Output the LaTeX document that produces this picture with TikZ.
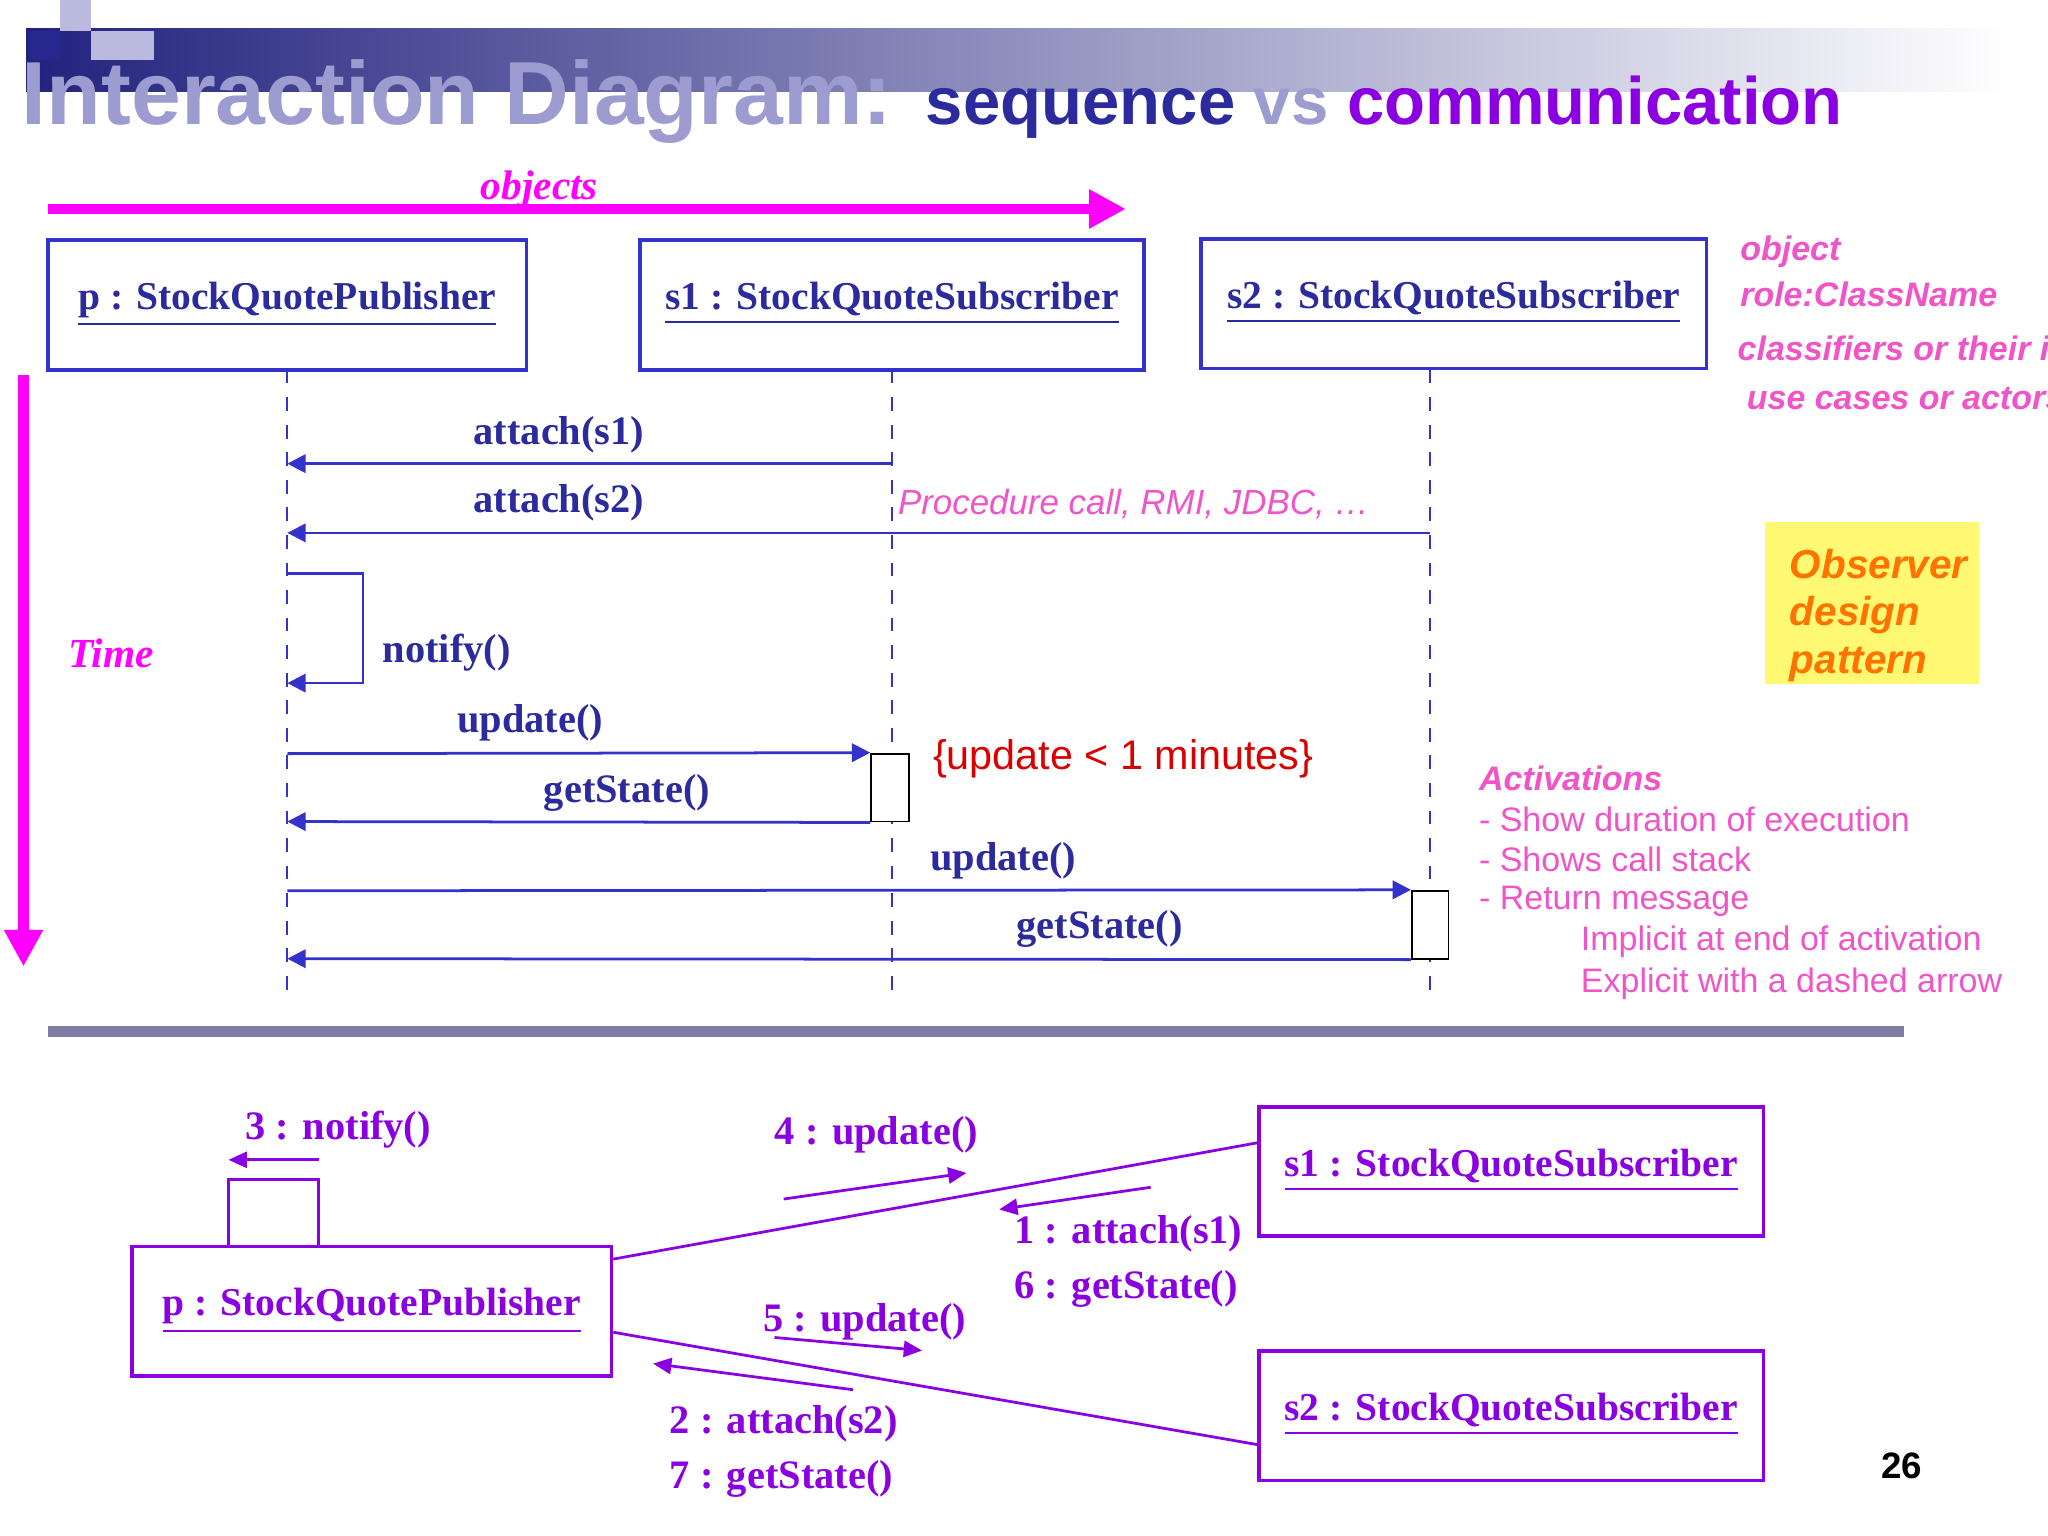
\documentclass[tikz,border=0pt]{standalone}
\usepackage{fontspec}
\setmainfont{Liberation Serif}
\setsansfont{Liberation Sans}
\usetikzlibrary{arrows.meta}
\definecolor{lblue}{HTML}{3333CC}
\definecolor{dblue}{HTML}{2B2B9E}
\definecolor{mag}{HTML}{FF00FF}
\definecolor{pinkt}{HTML}{F055C8}
\definecolor{purp}{HTML}{8A00E0}
\definecolor{lav}{HTML}{9C9CD0}
\begin{document}
\begin{tikzpicture}[x=0.01cm,y=-0.01cm,
  obj/.style={draw=lblue,thick,minimum height=0.99cm,font=\fontsize{8.6}{10}\selectfont\bfseries,text=dblue},
  msg/.style={font=\fontsize{8.8}{10}\selectfont\bfseries,text=dblue},
  cmsg/.style={font=\fontsize{8.8}{10}\selectfont\bfseries,text=purp},
  ln/.style={draw=lblue,semithick},
  call/.style={ln,-{Triangle[length=4pt,width=4pt]}},
  life/.style={draw=lblue,dashed},
  note/.style={font=\sffamily\fontsize{7.4}{9}\selectfont,text=pinkt,anchor=west},
  carr/.style={draw=purp,semithick,-{Triangle[length=4pt,width=3.5pt]}}]
\useasboundingbox (0,0) rectangle (1568,1176);
% title bar
\shade[left color=dblue!80!black,right color=white] (20,22) rectangle (1540,70);
\fill[dblue!90!black] (22,24) rectangle (46,46);
\fill[lav!70] (46,0) rectangle (70,24);
\fill[lav!70] (70,24) rectangle (118,46);
\node[anchor=base west,inner sep=0,font=\sffamily\bfseries\fontsize{19.5}{20}\selectfont] (title) at (16,95)
  {\textcolor{lav}{Interaction Diagram:} {\fontsize{14.6}{16}\selectfont\textcolor{dblue}{sequence} \textcolor{lav}{vs} \textcolor{purp}{communication}}};
% objects / time
\coordinate (oa) at (37,160); \coordinate (ob) at (862,160);
\draw[mag,line width=2.2pt,-{Triangle[length=8pt,width=8pt]}] (oa) -- (ob);
\node[font=\itshape\bfseries\fontsize{9}{10}\selectfont,text=mag] (objl) at (413,145) {objects};
\coordinate (ta) at (18,287); \coordinate (tb) at (18,740);
\draw[mag,line width=2.2pt,-{Triangle[length=8pt,width=8pt]}] (ta) -- (tb);
\node[font=\itshape\bfseries\fontsize{9}{10}\selectfont,text=mag] (timel) at (85,500) {Time};
% objects
\node[obj,minimum width=3.66cm,text depth=4pt] (p) at (220,233.5) {\underline{p : StockQuotePublisher}};
\node[obj,minimum width=3.86cm,text depth=4pt] (s1) at (683,233.5) {\underline{s1 : StockQuoteSubscriber}};
\node[obj,minimum width=3.87cm,text depth=4pt] (s2) at (1113,232.5) {\underline{s2 : StockQuoteSubscriber}};
% lifelines
\coordinate (pe) at (220,765); \coordinate (s1e) at (683,765); \coordinate (s2e) at (1095,765);
\draw[life] (220,283) -- (pe);
\draw[life] (683,283) -- (s1e);
\draw[life] (1095,283) -- (s2e);
% activations
\node[draw=black,fill=white,minimum width=0.29cm,minimum height=0.52cm,inner sep=0] (a1) at (681.5,603) {};
\node[draw=black,fill=white,minimum width=0.28cm,minimum height=0.52cm,inner sep=0] (a2) at (1095,708) {};
% messages
\draw[call] (683,355) -- (220,355);
\node[msg] (m1) at (428,333) {attach(s1)};
\draw[call] (1095,408) -- (220,408);
\node[msg] (m2) at (428,385) {attach(s2)};
\draw[call] (220,439) -- (278,439) -- (278,523) -- (220,523);
\node[msg] (m3) at (342,500) {notify()};
\draw[call] (220,577) -- (a1.north west);
\node[msg] (m4) at (406,553) {update()};
\draw[call] (a1.south west) -- (220,629);
\node[msg] (m5) at (480,607) {getState()};
\draw[call] (220,682) -- (a2.north west);
\node[msg] (m6) at (768,659) {update()};
\draw[call] (a2.south west) -- (220,734);
\node[msg] (m7) at (842,711) {getState()};
\node[font=\sffamily\itshape\fontsize{7.6}{9}\selectfont,text=pinkt] (rmi) at (868,386) {Procedure call, RMI, JDBC, \dots};
\node[font=\sffamily\fontsize{9}{10}\selectfont,text=red!85!black] (cons) at (860,581) {\{update < 1 minutes\}};
% right notes (cut at the page edge as in the slide)
\begin{scope}
\clip (1310,170) rectangle (1568,330);
\node[note,font=\sffamily\itshape\bfseries\fontsize{7.4}{9}\selectfont] (n1) at (1320,193) {object};
\node[note,font=\sffamily\itshape\bfseries\fontsize{7.4}{9}\selectfont] (n2) at (1320,225) {role:ClassName};
\node[note,font=\sffamily\itshape\bfseries\fontsize{7.4}{9}\selectfont] (n3) at (1318,267) {classifiers or their i};
\node[note,font=\sffamily\itshape\bfseries\fontsize{7.4}{9}\selectfont] (n4) at (1325,305) {use cases or actors};
\end{scope}
\fill[yellow!55] (1351,400) rectangle (1515,524);
\node[anchor=north west,align=left,font=\sffamily\itshape\bfseries\fontsize{8.8}{10.3}\selectfont,text=orange!90!red] (obs) at (1358,408) {Observer\\design\\pattern};
\node[note,font=\sffamily\itshape\bfseries\fontsize{7.4}{9}\selectfont] (ac0) at (1120,596) {Activations};
\node[note] (ac1) at (1120,627) {- Show duration of execution};
\node[note] (ac2) at (1120,658) {- Shows call stack};
\node[note] (ac3) at (1120,690) {- Return message};
\node[note] (ac4) at (1198,721) {Implicit at end of activation};
\node[note] (ac5) at (1198,753) {Explicit with a dashed arrow};
% separator
\coordinate (sa) at (37,790); \coordinate (sb) at (1458,790);
\draw[draw=lav!80!black,line width=2.4pt] (sa) -- (sb);
% communication diagram
\node[obj,draw=purp,text=purp,minimum width=3.67cm,text depth=4pt] (cp) at (284.5,1004) {\underline{p : StockQuotePublisher}};
\node[obj,draw=purp,text=purp,minimum width=3.86cm,text depth=4pt] (cs1) at (1157,897) {\underline{s1 : StockQuoteSubscriber}};
\node[obj,draw=purp,text=purp,minimum width=3.86cm,text depth=4pt] (cs2) at (1157,1084) {\underline{s2 : StockQuoteSubscriber}};
\draw[purp,semithick] (175,955) -- (175,903) -- (244,903) -- (244,955);
\draw[purp,semithick] (cp.east |- 0,964) -- (cs1.west |- 0,875);
\draw[purp,semithick] (cp.east |- 0,1020) -- (cs2.west |- 0,1106);
\node[cmsg] (c3) at (259,865) {3 : notify()};
\draw[carr] (244,888) -- (175,888);
\node[cmsg] (c4) at (671,869) {4 : update()};
\draw[carr] (600,918) -- (740,898);
\draw[carr] (881,909) -- (765,926);
\node[cmsg,align=left] (c1) at (864,966) {1 : attach(s1)\\[2pt]6 : getState()};
\node[cmsg] (c5) at (662,1012) {5 : update()};
\draw[carr] (593,1024) -- (706,1034);
\draw[carr] (653,1064) -- (500,1044);
\node[cmsg,align=left] (c2) at (600,1111) {2 : attach(s2)\\[2pt]7 : getState()};
\node[font=\sffamily\bfseries\fontsize{8}{9}\selectfont] (pg) at (1456,1122) {26};
\end{tikzpicture}
\end{document}
